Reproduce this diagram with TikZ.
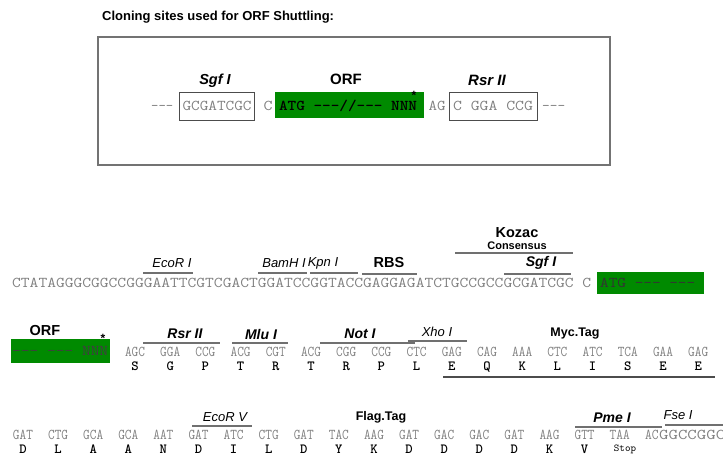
\documentclass[tikz,border=0pt]{standalone}
\usepackage{fontspec}
\setmainfont{Liberation Sans}
\usepackage{graphicx}
\usepackage{xcolor}
\usetikzlibrary{positioning}
\definecolor{seqgray}{HTML}{808080}
\definecolor{bargray}{HTML}{707070}
\definecolor{orfgreen}{HTML}{008A00}
%% stretch a piece of sequence to a given width (height kept)
\newcommand{\stretchseq}[2]{\resizebox{#1}{\height}{#2}}
\tikzset{
  %% grey typewriter sequence
  seqtxt/.style={inner sep=0pt, text=seqgray, text height=9pt, text depth=0pt,
    font={\fontsize{15}{15}\ttfamily}},
  %% amino acid letters
  amino/.style={inner sep=0pt, text=black, text height=8.5pt, text depth=0pt,
    font={\fontsize{14}{14}\ttfamily\bfseries}},
  %% enzyme names
  enz/.style={inner sep=0pt, font={\fontsize{13}{13}\selectfont\itshape}},
  enzb/.style={inner sep=0pt, font={\fontsize{14}{14}\selectfont\bfseries\itshape}},
  %% plain bold labels
  lab/.style={inner sep=0pt, font={\fontsize{14.5}{14.5}\selectfont\bfseries}},
  tag/.style={inner sep=0pt, font={\fontsize{12.5}{12.5}\selectfont\bfseries}},
  %% overline of a site
  bar/.style={draw=bargray, line width=1.1pt},
  %% boxed site
  site/.style={draw=black!70, line width=0.9pt, inner xsep=2pt,
    inner ysep=0pt, minimum height=28pt, text=seqgray,
    font={\fontsize{15}{15}\ttfamily}},
  %% green ORF block
  orf/.style={fill=orfgreen, inner sep=0pt},
  star/.style={inner sep=0pt, font={\fontsize{12}{12}\selectfont\bfseries}},
}
\begin{document}
\begin{tikzpicture}[x=1pt, y=-1pt]
  \useasboundingbox (0,0) rectangle (723,463);

  %% Title and frame
  \node[anchor=west, inner sep=0pt, font={\fontsize{13}{13}\selectfont\bfseries}]
       (title) at (102,17) {Cloning sites used for ORF Shuttling:};
  \draw[black!55, line width=1.4pt] (98,37) rectangle (610,165);

  %% Shuttling cassette
  \node[seqtxt, anchor=west] (dashL) at (151,106) {\stretchseq{22pt}{-{}-{}-}};
  \node[site, minimum width=75pt] (sgfbox) at (217,106) {\stretchseq{69pt}{GCGATCGC}};
  \node[enzb, font={\fontsize{14.5}{14.5}\selectfont\bfseries\itshape}]
       (sgflab) at (215,81) {Sgf I};
  \node[seqtxt] (cC) at (268,106) {\stretchseq{9pt}{C}};
  \node[orf, minimum width=149pt, minimum height=26pt] (orfbox) at (349.5,105) {};
  \node[seqtxt, text=black, font={\fontsize{15}{15}\ttfamily\bfseries}]
       (orftxt) at (348,106) {\stretchseq{138pt}{ATG -{}-{}-//-{}-{}- NNN}};
  \node[star] (orfstar) at (414,95) {*};
  \node[lab, font={\fontsize{15}{15}\selectfont\bfseries}] (orflab) at (346,79) {ORF};
  \node[seqtxt] (cAG) at (437,106) {\stretchseq{17pt}{AG}};
  \node[site, minimum width=88pt] (rsrbox) at (493,106) {\stretchseq{80pt}{C GGA CCG}};
  \node[enzb, font={\fontsize{15}{15}\selectfont\bfseries\itshape}]
       (rsrlab) at (487,80) {Rsr II};
  \node[seqtxt, anchor=west] (dashR) at (542,106) {\stretchseq{23pt}{-{}-{}-}};

  %% Row 1: upstream sequence
  \node[seqtxt, anchor=west] (seq1) at (12,283)
       {\stretchseq{579pt}{CTATAGGGCGGCCGGGAATTCGTCGACTGGATCCGGTACCGAGGAGATCTGCCGCCGCGATCGC C}};
  \node[orf, minimum width=107pt, minimum height=22pt] (orf1) at (650.5,283) {};
  \node[seqtxt, anchor=west, text=black!80] (orf1txt) at (600,283)
       {\stretchseq{95pt}{ATG -{}-{}- -{}-{}-}};

  \draw[bar] (143,273) -- (193,273);
  \node[enz] (ecori) at (172,263) {EcoR I};
  \draw[bar] (258,273) -- (307,273);
  \node[enz] (bamhi) at (284,263) {BamH I};
  \draw[bar] (310,273) -- (358,273);
  \node[enz] (kpni) at (323,263) {Kpn I};
  \draw[bar] (362,274) -- (417,274);
  \node[lab] (rbs) at (389,263) {RBS};
  \draw[bar] (504,274) -- (571,274);
  \node[enzb] (sgf1) at (541,263) {Sgf I};
  \draw[bar] (455,253) -- (573,253);
  \node[lab] (kozac) at (517,233) {Kozac};
  \node[inner sep=0pt, font={\fontsize{11}{11}\selectfont\bfseries}]
       (consensus) at (517,246) {Consensus};

  %% Row 2: ORF end, Myc tag
  \node[orf, minimum width=99pt, minimum height=24pt] (orf2) at (60.5,351) {};
  \node[seqtxt, anchor=west, text=black!75] (orf2txt) at (12,351)
       {\stretchseq{96pt}{-{}-{}- -{}-{}- NNN}};
  \node[star] (orf2star) at (103,338) {*};
  \node[lab] (orf2lab) at (45,331) {ORF};

  \foreach \cod/\aa [count=\i from 0] in {AGC/S, GGA/G, CCG/P, ACG/T, CGT/R,
      ACG/T, CGG/R, CCG/P, CTC/L, GAG/E, CAG/Q, AAA/K, CTC/L, ATC/I, TCA/S,
      GAA/E, GAG/E}{
    \node[seqtxt] (cdA\i) at ({135+35.2*\i},352) {\stretchseq{20pt}{\cod}};
    \node[amino] (aaA\i) at ({135+35.2*\i},366) {\aa};
  }

  \draw[bar] (143,343) -- (220,343);
  \node[enzb] (rsr2) at (185,334) {Rsr II};
  \draw[bar] (232,343) -- (288,343);
  \node[enzb] (mlu) at (261,334) {Mlu I};
  \draw[bar] (320,343) -- (415,343);
  \node[enzb] (noti) at (360,334) {Not I};
  \draw[bar] (408,341) -- (467,341);
  \node[enz] (xhoi) at (437,332) {Xho I};
  \node[tag] (myc) at (575,334) {Myc.Tag};
  \draw[black!70, line width=1.5pt] (443,377) -- (715,377);

  %% Row 3: Flag tag and stop
  \foreach \cod/\aa [count=\i from 0] in {GAT/D, CTG/L, GCA/A, GCA/A, AAT/N,
      GAT/D, ATC/I, CTG/L, GAT/D, TAC/Y, AAG/K, GAT/D, GAC/D, GAC/D, GAT/D,
      AAG/K, GTT/V}{
    \node[seqtxt] (cdB\i) at ({23+35.1*\i},435) {\stretchseq{20pt}{\cod}};
    \node[amino] (aaB\i) at ({23+35.1*\i},449) {\aa};
  }
  \node[seqtxt] (cdstop) at (619.7,435) {\stretchseq{20pt}{TAA}};
  \node[inner sep=0pt, font={\fontsize{10.5}{10.5}\ttfamily}] (stop) at (625,449) {Stop};
  \node[seqtxt, anchor=west] (cdAC) at (645,435) {\stretchseq{13.5pt}{AC}};
  \node[seqtxt, anchor=west] (seq3) at (659,435) {\stretchseq{66pt}{GGCCGGC}};

  \draw[bar] (192,426) -- (252,426);
  \node[enz] (ecorv) at (225,417) {EcoR V};
  \node[tag] (flag) at (381,417) {Flag.Tag};
  \draw[bar] (575,427) -- (662,427);
  \node[enzb] (pmei) at (612,418) {Pme I};
  \draw[bar] (665,425) -- (723,425);
  \node[enz] (fsei) at (678,415) {Fse I};

\end{tikzpicture}
\end{document}
